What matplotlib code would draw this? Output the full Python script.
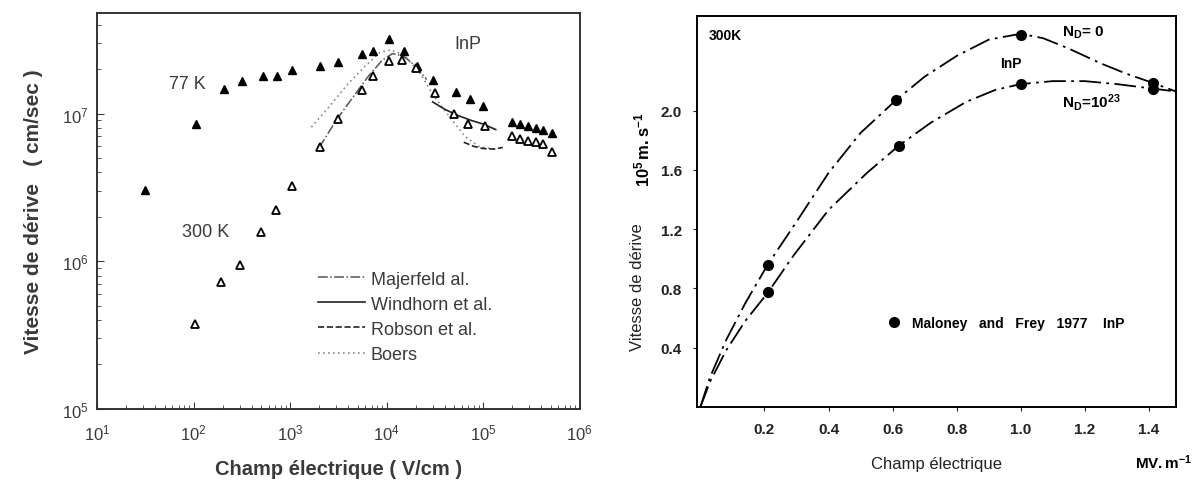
import matplotlib
matplotlib.use("Agg")
import matplotlib.pyplot as plt
from matplotlib.lines import Line2D

plt.rcParams['font.family'] = ['Liberation Sans', 'DejaVu Sans']
plt.rcParams['mathtext.fontset'] = 'custom'
plt.rcParams['mathtext.rm'] = 'Liberation Sans'
plt.rcParams['mathtext.bf'] = 'Liberation Sans:bold'
plt.rcParams['mathtext.it'] = 'Liberation Sans:italic'

# ---- panneau gauche : InP, echelle log ----
e77 = [31, 105, 205, 316, 525, 724, 1050, 2050, 3100, 5600, 7240, 10500, 15100,
       20500, 30200, 52500, 72400, 1.0e5, 2.0e5, 2.4e5, 2.9e5, 3.5e5, 4.2e5, 5.2e5]
v77 = [3.06e6, 8.45e6, 1.46e7, 1.67e7, 1.8e7, 1.8e7, 1.96e7, 2.1e7, 2.25e7, 2.54e7, 2.65e7,
       3.18e7, 2.65e7, 2.09e7, 1.69e7, 1.41e7, 1.25e7, 1.12e7, 8.77e6, 8.45e6, 8.2e6,
       8.0e6, 7.8e6, 7.4e6]
e300 = [102, 194, 302, 501, 708, 1050, 2050, 3100, 5600, 7240, 10500, 14500, 20000,
        31600, 50000, 69000, 1.05e5, 2.0e5, 2.4e5, 2.9e5, 3.5e5, 4.2e5, 5.2e5]
v300 = [3.78e5, 7.2e5, 9.4e5, 1.58e6, 2.23e6, 3.22e6, 5.9e6, 9.25e6, 1.45e7, 1.79e7, 2.27e7,
        2.3e7, 2.04e7, 1.39e7, 1.0e7, 8.5e6, 8.3e6, 7.0e6, 6.7e6, 6.5e6, 6.4e6, 6.2e6, 5.46e6]

maj_e = [2000, 3000, 4500, 6500, 9000, 11500, 15000, 20000, 26000]
maj_v = [5.9e6, 9.0e6, 1.3e7, 1.8e7, 2.3e7, 2.55e7, 2.45e7, 2.1e7, 1.7e7]
win_e = [30000, 40000, 55000, 75000, 1.0e5, 1.35e5]
win_v = [1.2e7, 1.07e7, 9.7e6, 9.0e6, 8.5e6, 7.8e6]
rob_e = [63000, 80000, 1.0e5, 1.3e5, 1.6e5]
rob_v = [6.4e6, 6.0e6, 5.8e6, 5.75e6, 5.9e6]
boe_e = [1660, 2500, 4000, 6000, 8500, 11000, 15000, 22000, 30000, 45000, 65000, 90000, 1.2e5]
boe_v = [8.1e6, 1.1e7, 1.6e7, 2.1e7, 2.6e7, 2.7e7, 2.5e7, 1.9e7, 1.35e7, 9.5e6, 7.0e6, 6.0e6, 5.8e6]

# ---- panneau droit : 300K ----
champ = [0.21, 0.61, 1.0, 1.412]
nd0_pts = [0.958, 2.073, 2.513, 2.19]
champ2 = [0.21, 0.62, 1.0, 1.412]
nd23_pts = [0.773, 1.765, 2.18, 2.15]

nd0_x = [0, 0.03, 0.08, 0.14, 0.21, 0.3, 0.4, 0.5, 0.61, 0.7, 0.8, 0.9, 1.0, 1.07,
         1.15, 1.25, 1.33, 1.41, 1.485]
nd0_y = [0, 0.2, 0.45, 0.7, 0.96, 1.25, 1.58, 1.85, 2.07, 2.23, 2.37, 2.48, 2.52, 2.49,
         2.42, 2.32, 2.25, 2.19, 2.13]
nd23_x = [0, 0.03, 0.08, 0.14, 0.21, 0.29, 0.4, 0.52, 0.62, 0.72, 0.83, 0.92, 1.0, 1.1,
          1.2, 1.3, 1.41, 1.485]
nd23_y = [0, 0.17, 0.38, 0.58, 0.77, 1.02, 1.33, 1.58, 1.765, 1.92, 2.06, 2.14, 2.18, 2.2,
          2.2, 2.18, 2.15, 2.13]

grey = '#3a3a3a'
fig = plt.figure(figsize=(12, 4.85), dpi=100)

ax1 = fig.add_axes([0.081, 0.155, 0.402, 0.816])
ax1.set_xscale('log')
ax1.set_yscale('log')
ax1.plot(boe_e, boe_v, color='#888888', ls=(0, (1, 2)), lw=1.2)
ax1.plot(maj_e, maj_v, color='#555555', ls='-.', lw=1.1)
ax1.plot(win_e, win_v, color='#222222', ls='-', lw=1.2)
ax1.plot(rob_e, rob_v, color='#222222', ls='--', lw=1.2)
ax1.plot(e77, v77, ls='none', marker='^', ms=6, color='black')
ax1.plot(e300, v300, ls='none', marker='^', ms=6, mfc='white', mec='black', mew=1.3)
ax1.set_xlim(10, 1e6)
ax1.set_ylim(1e5, 4.8e7)
ax1.tick_params(which='both', direction='in', colors=grey, labelsize=12)
ax1.tick_params(axis='x', pad=10)
ax1.tick_params(axis='y', pad=6)
ax1.tick_params(which='major', length=5)
ax1.tick_params(which='minor', length=3)
for s in ax1.spines.values():
    s.set_linewidth(1.4)
    s.set_color('#333333')
ax1.set_xlabel('Champ électrique ( V/cm )', fontsize=14.5, color=grey, fontweight='bold', labelpad=12)
ax1.set_ylabel('Vitesse de dérive   ( cm/sec )', fontsize=15, color=grey, fontweight='bold', labelpad=14)
ax1.text(87, 1.6e7, '77 K', fontsize=13, color=grey, ha='center', va='center')
ax1.text(132, 1.58e6, '300 K', fontsize=13, color=grey, ha='center', va='center')
ax1.text(69000, 3.0e7, 'InP', fontsize=13, color=grey, ha='center', va='center')
handles = [Line2D([], [], color='#555555', ls='-.', lw=1.1),
           Line2D([], [], color='#222222', ls='-', lw=1.2),
           Line2D([], [], color='#222222', ls='--', lw=1.2),
           Line2D([], [], color='#888888', ls=(0, (1, 2)), lw=1.2)]
ax1.legend(handles, ['Majerfeld al.', 'Windhorn et al.', 'Robson et al.', 'Boers'],
           loc='lower left', bbox_to_anchor=(0.425, 0.075), frameon=False,
           fontsize=13, handlelength=2.6, handletextpad=0.3, labelspacing=0.45,
           labelcolor=grey)

ax2 = fig.add_axes([0.581, 0.159, 0.399, 0.806])
ax2.plot(nd0_x, nd0_y, color='black', lw=1.3, ls=(0, (12, 3, 1.5, 3)))
ax2.plot(nd23_x, nd23_y, color='black', lw=1.3, ls=(0, (12, 3, 1.5, 3)))
ax2.plot(champ, nd0_pts, ls='none', marker='o', ms=7, color='black',
         label='Maloney   and   Frey   1977    InP')
ax2.plot(champ2, nd23_pts, ls='none', marker='o', ms=7, color='black')
ax2.set_xlim(-0.01, 1.485)
ax2.set_ylim(0, 2.64)
ax2.set_xticks([0.2, 0.4, 0.6, 0.8, 1.0, 1.2, 1.4])
ax2.set_yticks([0.4, 0.8, 1.2, 1.6, 2.0])
ax2.set_xticklabels(['0.2', '0.4', '0.6', '0.8', '1.0', '1.2', '1.4'], fontweight='bold')
ax2.set_yticklabels(['0.4', '0.8', '1.2', '1.6', '2.0'], fontweight='bold')
ax2.tick_params(direction='out', length=3, labelsize=11, colors='#222222', pad=8)
for s in ax2.spines.values():
    s.set_linewidth(1.4)
ax2.text(0.026, 2.51, '300K', fontsize=10, fontweight='bold', ha='left', va='center')
ax2.text(0.97, 2.32, 'InP', fontsize=10, fontweight='bold', ha='center', va='center')
ax2.text(1.13, 2.53, r'$\mathbf{N_D}$= 0', fontsize=11, fontweight='bold', ha='left', va='center')
ax2.text(1.13, 2.06, r'$\mathbf{N_D}$=10$^\mathbf{23}$', fontsize=11, fontweight='bold',
         ha='left', va='center')
ax2.legend(loc='center left', bbox_to_anchor=(0.37, 0.214), frameon=False,
           handlelength=1.0, handletextpad=0.8, prop={'weight': 'bold', 'size': 10})
ax2.set_xlabel('Champ électrique', fontsize=12, labelpad=14, color='#222222')
ax2.set_ylabel('Vitesse de dérive', fontsize=12, color='#222222')
ax2.yaxis.set_label_coords(-0.11, 0.31)
ax2.text(-0.115, 0.66, r'$\mathbf{10^5\,m.s^{-1}}$', transform=ax2.transAxes,
         rotation=90, fontsize=12, ha='center', va='center')
ax2.text(0.975, -0.14, r'$\mathbf{MV.m^{-1}}$', transform=ax2.transAxes,
         fontsize=11, ha='center', va='center')

fig.savefig('out.png', dpi=100)
